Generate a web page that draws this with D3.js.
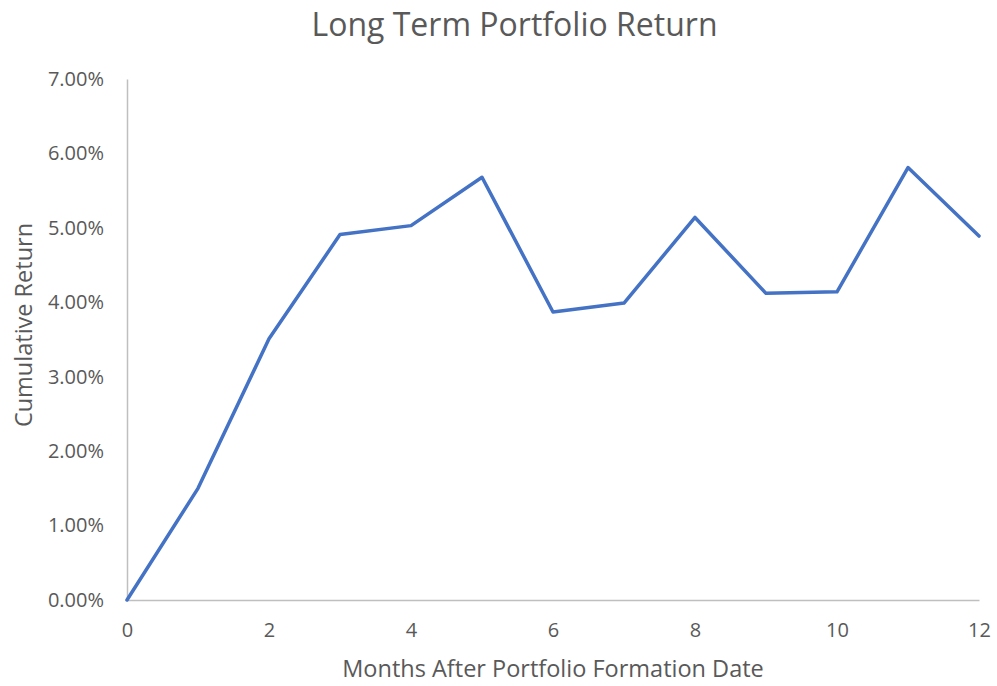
<!DOCTYPE html>
<html>
<head>
<meta charset="utf-8">
<script src="https://cdn.jsdelivr.net/npm/d3@7"></script>
<style>
  body { margin: 0; background: #fff; }
  text { font-family: "Open Sans", sans-serif; fill: #595959; }
</style>
</head>
<body>
<div id="chart"></div>
<script>
// months after formation and cumulative return (%)
const months = [0, 1, 2, 3, 4, 5, 6, 7, 8, 9, 10, 11, 12];
const cumulativeReturn = [0, 1.50, 3.51, 4.91, 5.03, 5.68, 3.87, 3.99, 5.14, 4.12, 4.14, 5.81, 4.89];
const xTicks = [0, 2, 4, 6, 8, 10, 12];
const yTicks = [0, 1, 2, 3, 4, 5, 6, 7];

const W = 997, H = 686;
const margin = { top: 79, right: 18, bottom: 86, left: 127 },
  width = W - margin.left - margin.right,
  height = H - margin.top - margin.bottom;

const svg = d3.select('#chart')
  .append('svg')
  .attr('width', W)
  .attr('height', H)
  .append('g')
  .attr('transform', 'translate(' + margin.left + ',' + margin.top + ')');

const xScale = d3.scaleLinear().domain([0, 12]).range([0, width]);
const yScale = d3.scaleLinear().domain([0, 7]).range([height, 0]);

// y axis
const yAxis = svg.append('g')
  .call(d3.axisLeft(yScale).tickValues(yTicks).tickSize(0).tickPadding(23)
    .tickFormat(d => d.toFixed(2) + '%'));
yAxis.select('.domain').attr('stroke', '#bfbfbf').attr('stroke-width', 1.5);
yAxis.selectAll('text').style('font-size', '20px').style('fill', '#595959');

// x axis
const xAxis = svg.append('g')
  .attr('transform', 'translate(0,' + height + ')')
  .call(d3.axisBottom(xScale).tickValues(xTicks).tickSize(0).tickPadding(23));
xAxis.select('.domain').attr('stroke', '#bfbfbf').attr('stroke-width', 1.5);
xAxis.selectAll('text').style('font-size', '20px').style('fill', '#595959');

// title
svg.append('text')
  .attr('x', (312 + 717) / 2 - margin.left)
  .attr('y', 36 - margin.top)
  .style('text-anchor', 'middle')
  .style('font-size', '32px')
  .text('Long Term Portfolio Return');

// axis titles
svg.append('text')
  .attr('x', (343 + 763) / 2 - margin.left)
  .attr('y', 677 - margin.top)
  .style('text-anchor', 'middle')
  .style('font-size', '23.5px')
  .text('Months After Portfolio Formation Date');

svg.append('text')
  .attr('transform', 'rotate(-90)')
  .attr('x', -(325 - margin.top))
  .attr('y', 32 - margin.left)
  .style('text-anchor', 'middle')
  .style('font-size', '23.5px')
  .text('Cumulative Return');

// line
const line = d3.line()
  .x((d, i) => xScale(months[i]))
  .y(d => yScale(d));

svg.append('path')
  .datum(cumulativeReturn)
  .attr('fill', 'none')
  .attr('stroke', '#4472c4')
  .attr('stroke-width', 3.5)
  .attr('stroke-linejoin', 'round')
  .attr('stroke-linecap', 'round')
  .attr('d', line);
</script>
</body>
</html>
